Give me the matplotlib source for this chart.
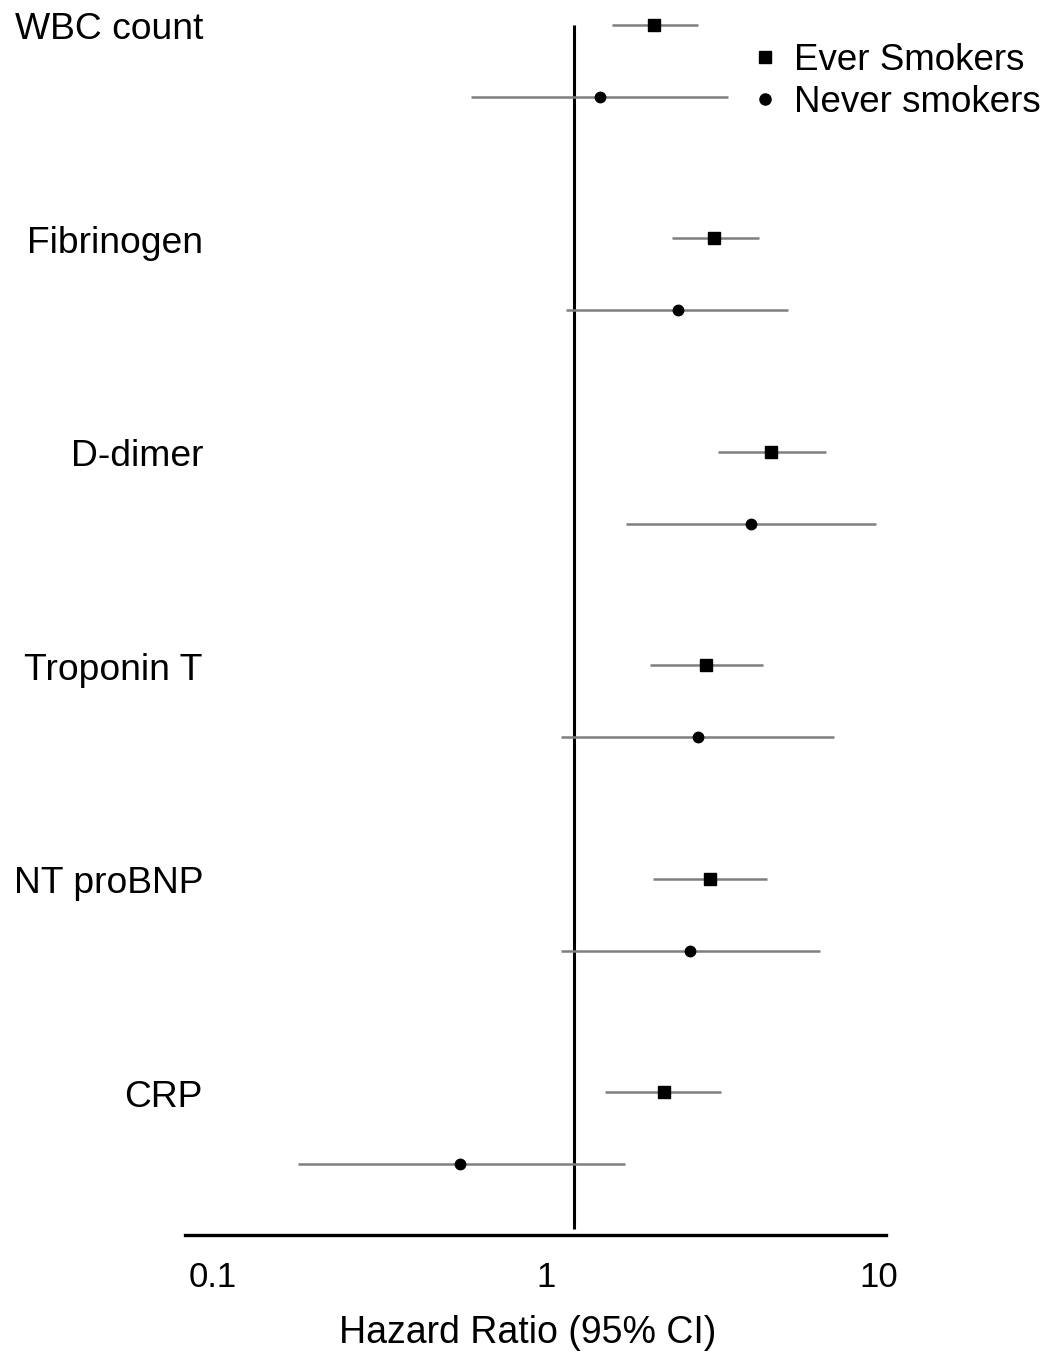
import matplotlib
matplotlib.use("Agg")
import matplotlib.pyplot as plt
from matplotlib.lines import Line2D
import matplotlib.transforms as mtransforms

plt.rcParams['font.family'] = ['Liberation Sans', 'DejaVu Sans']

categories = ["WBC count", "Fibrinogen", "D-dimer", "Troponin T", "NT proBNP", "CRP"]

ever_hr = [2.11, 3.20, 4.74, 3.02, 3.11, 2.26]
ever_lo = [1.58, 2.39, 3.28, 2.05, 2.10, 1.50]
ever_hi = [2.86, 4.36, 6.93, 4.48, 4.61, 3.35]

never_hr = [1.45, 2.49, 4.13, 2.86, 2.71, 0.552]
never_lo = [0.595, 1.15, 1.74, 1.11, 1.11, 0.18]
never_hi = [3.52, 5.33, 9.80, 7.33, 6.65, 1.73]

ref_line = 1.21
xticks = [0.1, 1, 10]
xtick_labels = ["0.1", "1", "10"]
xlabel = "Hazard Ratio (95% CI)"
legend_labels = ["Ever Smokers", "Never smokers"]

W, H = 1055, 1357
fig = plt.figure(figsize=(W / 100, H / 100), dpi=100)
ax = fig.add_axes([185 / W, (H - 1235) / H, (886 - 185) / W, (1235 - 10) / H])

ax.set_xscale('log')
ax.set_xlim(0.0824, 10.5)
never_off = 72 / 213.4
ax.set_ylim(5.67, -0.07)

grey = '#7f7f7f'
for i in range(len(categories)):
    y_e = i
    y_n = i + never_off
    ax.plot([ever_lo[i], ever_hi[i]], [y_e, y_e], color=grey, lw=1.8, solid_capstyle='butt', zorder=2)
    ax.plot([ever_hr[i]], [y_e], marker='s', color='black', ms=9, ls='none', zorder=3)
    ax.plot([never_lo[i], never_hi[i]], [y_n, y_n], color=grey, lw=1.8, solid_capstyle='butt', zorder=2)
    ax.plot([never_hr[i]], [y_n], marker='o', color='black', ms=7.5, ls='none', zorder=3)

ax.vlines(ref_line, 0, 5.64, color='black', lw=2.2, zorder=1)

for s in ['top', 'right', 'left']:
    ax.spines[s].set_visible(False)
ax.spines['bottom'].set_linewidth(2.4)
ax.set_yticks([])
ax.set_xticks(xticks)
ax.set_xticklabels(xtick_labels)
ax.xaxis.set_minor_locator(matplotlib.ticker.NullLocator())
ax.tick_params(axis='x', length=0, pad=19, labelsize=25, colors='black')
ax.set_xlabel(xlabel, fontsize=27)
ax.xaxis.set_label_coords((528 - 185) / (886 - 185), -80 / 1225)

trans = mtransforms.blended_transform_factory(ax.transAxes, ax.transData)
trans = mtransforms.offset_copy(trans, fig=fig, x=0, y=-5, units='dots')
for i, c in enumerate(categories):
    ax.text((203 - 185) / (886 - 185), i, c, transform=trans, ha='right', va='center',
            fontsize=26.8, color='black')

handles = [Line2D([], [], marker='s', color='black', ls='none', ms=8),
           Line2D([], [], marker='o', color='black', ls='none', ms=8)]
fig.legend(handles, legend_labels, loc='upper left', bbox_to_anchor=(754 / W, 1 - 43 / H),
           frameon=False, fontsize=26.5, handlelength=0.6, handletextpad=0.5,
           borderpad=0, labelspacing=0.2, borderaxespad=0)

fig.savefig("out.png", dpi=100)
